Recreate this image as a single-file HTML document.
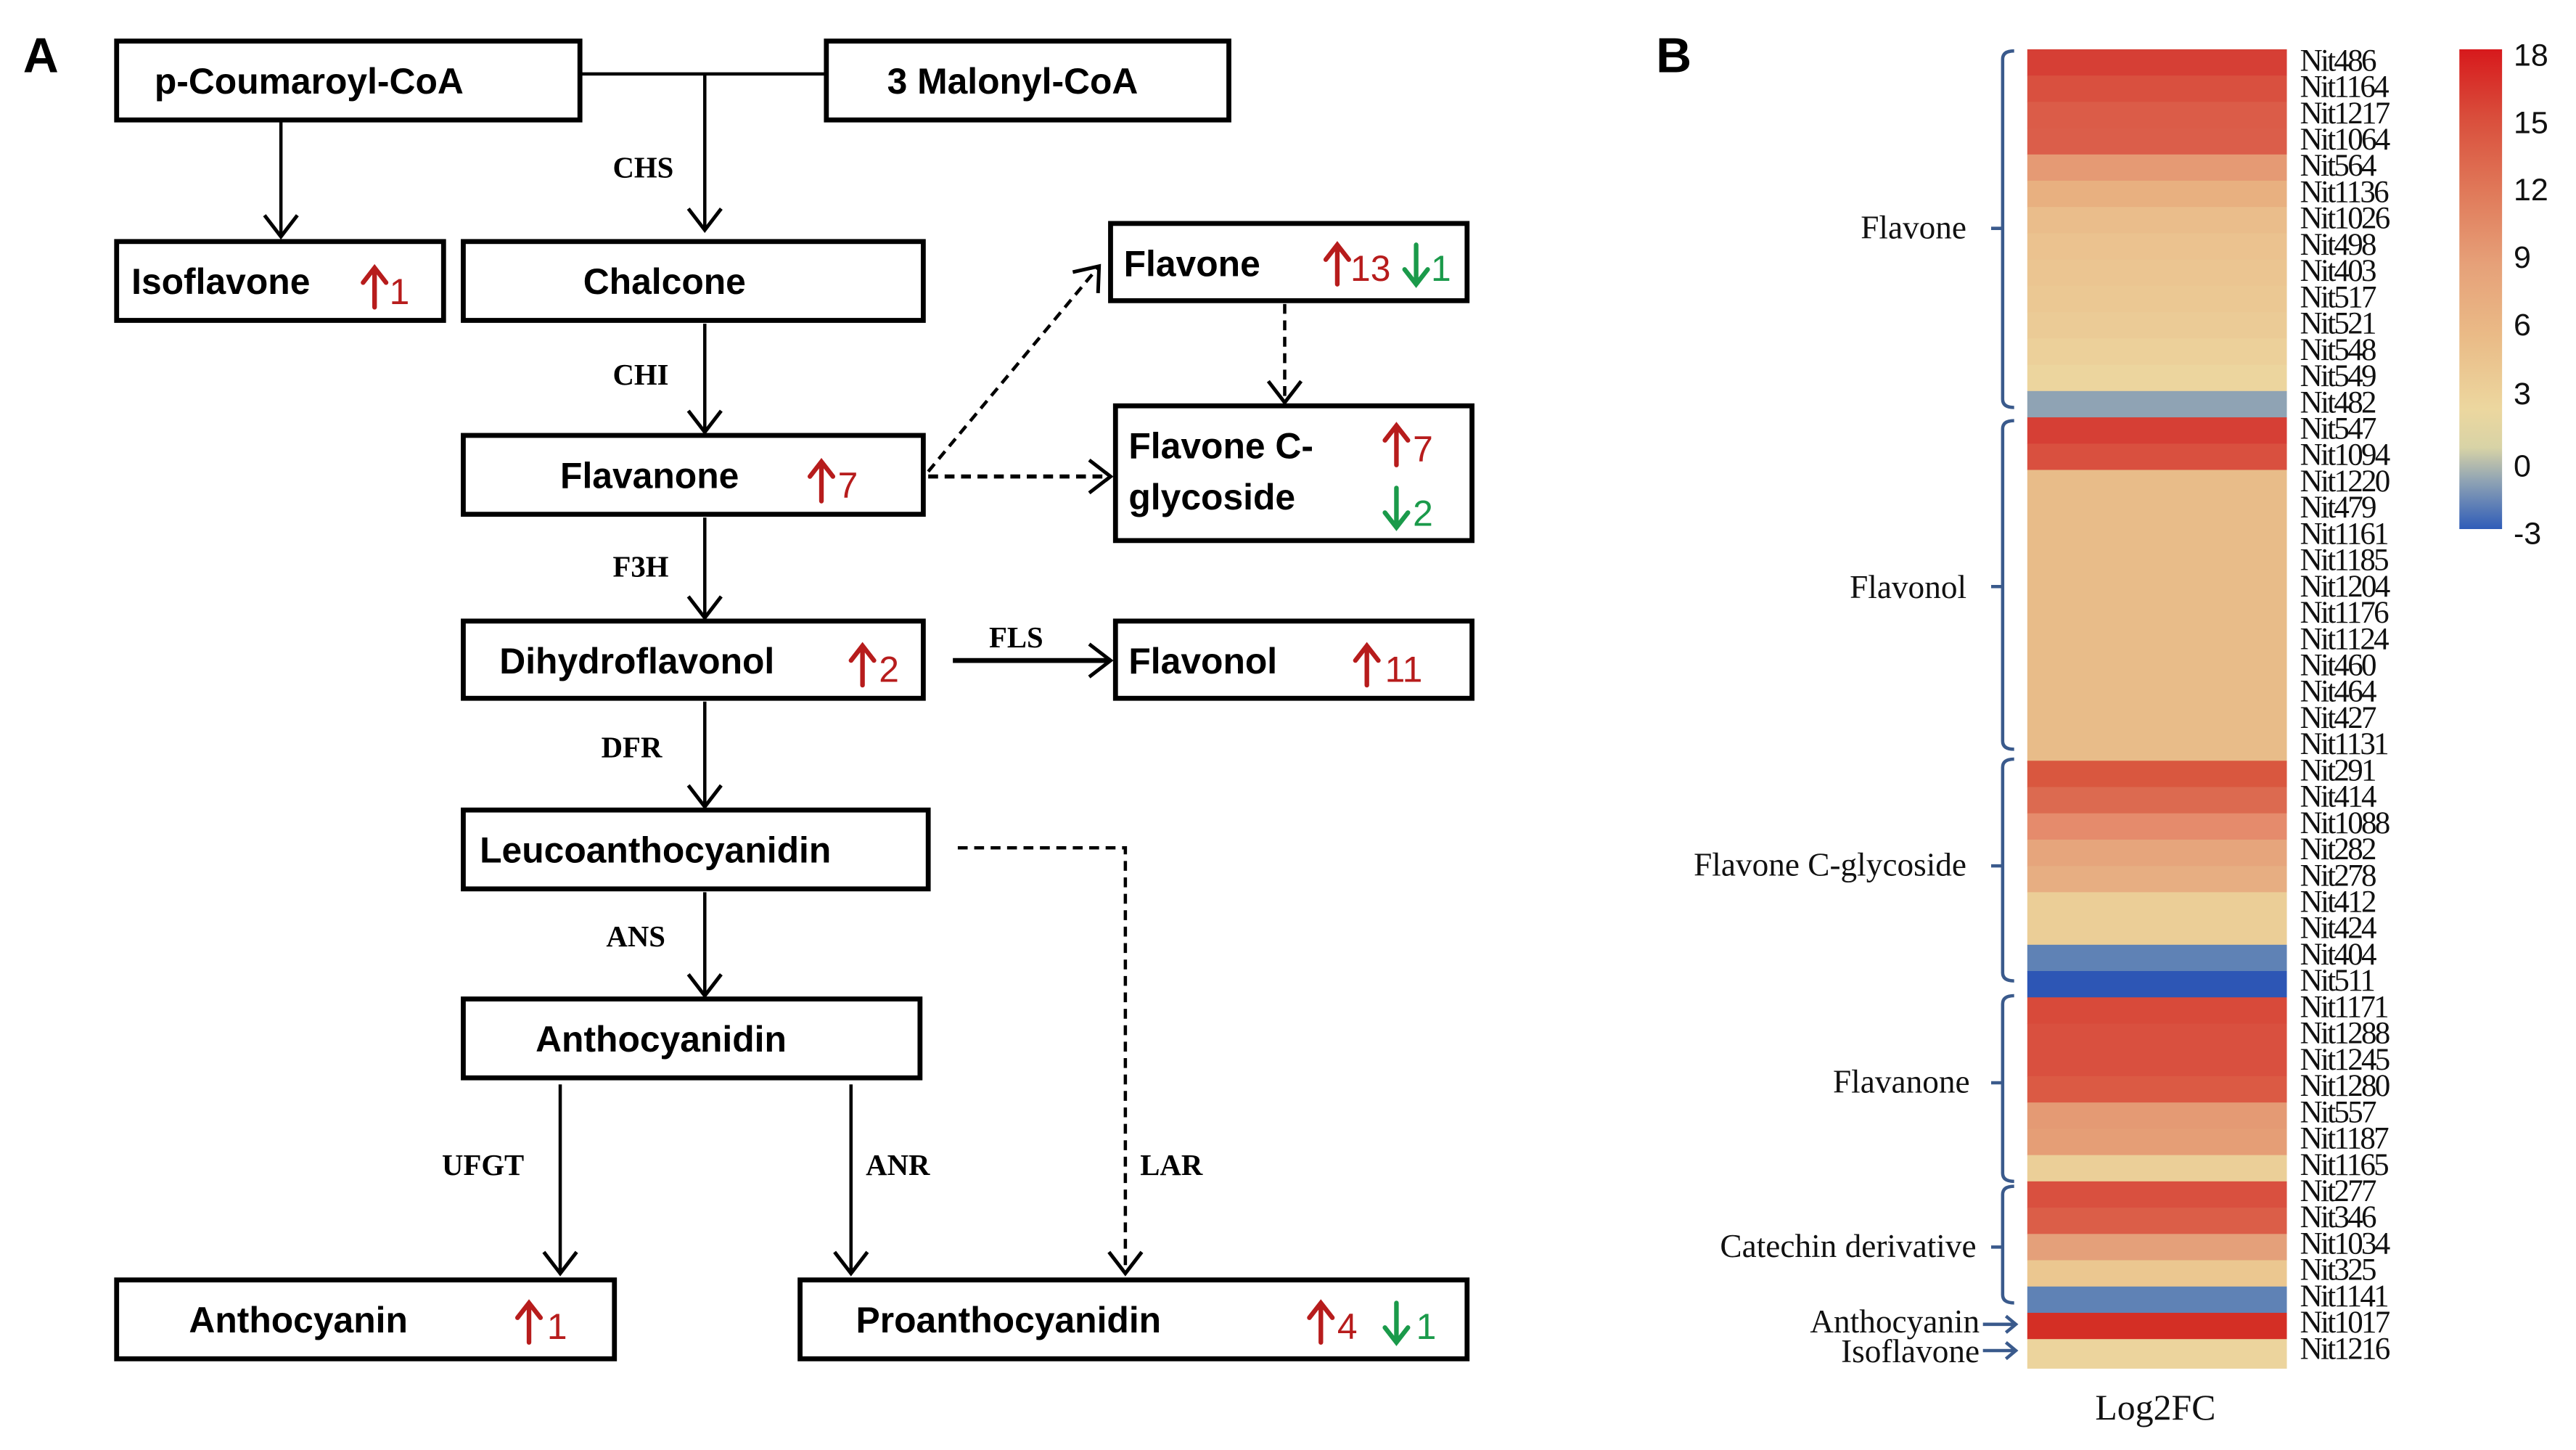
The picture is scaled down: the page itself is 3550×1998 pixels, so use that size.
<!DOCTYPE html>
<html><head><meta charset="utf-8"><style>html,body{margin:0;padding:0;background:#fff}svg{display:block}</style></head>
<body>
<svg width="3550" height="1998" viewBox="0 0 1568 882.5" preserveAspectRatio="none" xmlns="http://www.w3.org/2000/svg">
<defs>
<marker id="ar" markerUnits="userSpaceOnUse" markerWidth="30" markerHeight="30" refX="15" refY="15" orient="auto" viewBox="0 0 30 30">
<path d="M2,5 L15,15 L2,25" fill="none" stroke="#000" stroke-width="2.2"/>
</marker>
<linearGradient id="cb" x1="0" y1="0" x2="0" y2="1">
<stop offset="0" stop-color="#d7191c"/>
<stop offset="0.14" stop-color="#d94d3b"/>
<stop offset="0.3" stop-color="#e07a5a"/>
<stop offset="0.45" stop-color="#e6a179"/>
<stop offset="0.6" stop-color="#eabb87"/>
<stop offset="0.75" stop-color="#ecd79f"/>
<stop offset="0.83" stop-color="#d8d3a6"/>
<stop offset="0.9" stop-color="#8fa3b4"/>
<stop offset="1" stop-color="#2f5cb8"/>
</linearGradient>
</defs>

<g font-family="Liberation Sans, Arial, sans-serif" font-weight="bold" font-size="22" fill="#000">
<text x="14" y="44" font-size="30">A</text>
<text x="1008" y="44" font-size="30">B</text>
</g>

<!-- boxes -->
<g fill="#fff" stroke="#000" stroke-width="3">
<rect x="71" y="25" width="282" height="48"/>
<rect x="503" y="25" width="245" height="48"/>
<rect x="71" y="147" width="199" height="48"/>
<rect x="282" y="147" width="280" height="48"/>
<rect x="282" y="265" width="280" height="48"/>
<rect x="282" y="378" width="280" height="47"/>
<rect x="282" y="493" width="283" height="48"/>
<rect x="282" y="608" width="278" height="48"/>
<rect x="71" y="779" width="303" height="48"/>
<rect x="487" y="779" width="406" height="48"/>
<rect x="676" y="136" width="217" height="47"/>
<rect x="679" y="247" width="217" height="82"/>
<rect x="679" y="378" width="217" height="47"/>
</g>

<!-- connectors -->
<g stroke="#000" stroke-width="2" fill="none">
<line x1="353" y1="45" x2="503" y2="45"/>
<line x1="429" y1="45" x2="429" y2="140" marker-end="url(#ar)"/>
<line x1="171" y1="73" x2="171" y2="144" marker-end="url(#ar)"/>
<line x1="429" y1="197" x2="429" y2="263" marker-end="url(#ar)"/>
<line x1="429" y1="315" x2="429" y2="376" marker-end="url(#ar)"/>
<line x1="429" y1="427" x2="429" y2="491" marker-end="url(#ar)"/>
<line x1="429" y1="543" x2="429" y2="606" marker-end="url(#ar)"/>
<line x1="341" y1="660" x2="341" y2="775" marker-end="url(#ar)"/>
<line x1="518" y1="660" x2="518" y2="775" marker-end="url(#ar)"/>
<line x1="580" y1="402" x2="676" y2="402" stroke-width="3" marker-end="url(#ar)"/>
<g stroke-dasharray="6,4">
<line x1="565" y1="287" x2="669" y2="162" marker-end="url(#ar)"/>
<line x1="565" y1="290" x2="676" y2="290" stroke-width="2.5" marker-end="url(#ar)"/>
<line x1="782" y1="185" x2="782" y2="245" marker-end="url(#ar)"/>
<polyline points="583,516 685,516 685,775" marker-end="url(#ar)"/>
</g>
</g>

<!-- box text -->
<g font-family="Liberation Sans, Arial, sans-serif" font-weight="bold" font-size="22" fill="#000">
<text x="94" y="57">p-Coumaroyl-CoA</text>
<text x="540" y="57">3 Malonyl-CoA</text>
<text x="80" y="179">Isoflavone</text>
<text x="355" y="179">Chalcone</text>
<text x="341" y="297">Flavanone</text>
<text x="304" y="410">Dihydroflavonol</text>
<text x="292" y="525">Leucoanthocyanidin</text>
<text x="326" y="640">Anthocyanidin</text>
<text x="115" y="811">Anthocyanin</text>
<text x="521" y="811">Proanthocyanidin</text>
<text x="684" y="168">Flavone</text>
<text x="687" y="279">Flavone C-</text>
<text x="687" y="310">glycoside</text>
<text x="687" y="410">Flavonol</text>
</g>

<!-- up/down arrows -->
<g stroke="#b71c1c" stroke-width="2.8" fill="none" stroke-linecap="round">
<path d="M228,187 L228,163 M221,172 L228,163 L235,172"/>
<path d="M500,305 L500,281 M493,290 L500,281 L507,290"/>
<path d="M525,417 L525,393 M518,402 L525,393 L532,402"/>
<path d="M832,417 L832,393 M825,402 L832,393 L839,402"/>
<path d="M814,173 L814,149 M807,158 L814,149 L821,158"/>
<path d="M850,283 L850,259 M843,268 L850,259 L857,268"/>
<path d="M322,817 L322,793 M315,802 L322,793 L329,802"/>
<path d="M804,817 L804,793 M797,802 L804,793 L811,802"/>
</g>
<g stroke="#1a9a4a" stroke-width="2.8" fill="none" stroke-linecap="round">
<path d="M862,149 L862,173 M855,164 L862,173 L869,164"/>
<path d="M850,297 L850,321 M843,312 L850,321 L857,312"/>
<path d="M850,793 L850,817 M843,808 L850,817 L857,808"/>
</g>
<g font-family="Liberation Sans, Arial, sans-serif" font-size="22">
<g fill="#b71c1c">
<text x="237" y="185">1</text>
<text x="510" y="303">7</text>
<text x="535" y="415">2</text>
<text x="843" y="415">11</text>
<text x="822" y="171">13</text>
<text x="860" y="281">7</text>
<text x="333" y="815">1</text>
<text x="814" y="815">4</text>
</g>
<g fill="#1a9a4a">
<text x="871" y="171">1</text>
<text x="860" y="320">2</text>
<text x="862" y="815">1</text>
</g>
</g>

<!-- enzyme labels -->
<g font-family="Liberation Serif, Times New Roman, serif" font-weight="bold" font-size="18" fill="#000">
<text x="373" y="108">CHS</text>
<text x="373" y="234">CHI</text>
<text x="373" y="351">F3H</text>
<text x="366" y="461">DFR</text>
<text x="369" y="576">ANS</text>
<text x="269" y="715">UFGT</text>
<text x="527" y="715">ANR</text>
<text x="694" y="715">LAR</text>
<text x="602" y="394">FLS</text>
</g>

<!-- heatmap -->
<g font-family="Liberation Serif, Times New Roman, serif" font-size="20" fill="#111" text-anchor="end">
<text x="1197" y="145">Flavone</text>
<text x="1197" y="364">Flavonol</text>
<text x="1197" y="533">Flavone C-glycoside</text>
<text x="1199" y="665">Flavanone</text>
<text x="1203" y="765">Catechin derivative</text>
<text x="1205" y="811">Anthocyanin</text>
<text x="1205" y="829">Isoflavone</text>
</g>
<g stroke="#3a5a8c" stroke-width="2" fill="none">
<path d="M1226,31 Q1219,31 1219,36 L1219,243 Q1219,248 1226,248 M1212,139 L1219,139"/>
<path d="M1226,256 Q1219,256 1219,261 L1219,451 Q1219,456 1226,456 M1212,357 L1219,357"/>
<path d="M1226,462 Q1219,462 1219,467 L1219,592 Q1219,597 1226,597 M1212,527 L1219,527"/>
<path d="M1226,606 Q1219,606 1219,611 L1219,714 Q1219,719 1226,719 M1212,659 L1219,659"/>
<path d="M1226,722 Q1219,722 1219,727 L1219,788 Q1219,793 1226,793 M1212,759 L1219,759"/>
<path d="M1207,806 L1227,806 M1221,801 L1227,806 L1221,811"/>
<path d="M1207,822 L1227,822 M1221,817 L1227,822 L1221,827"/>
</g>
<g>
<rect x="1234" y="30" width="158" height="16.2" fill="#d63f35"/>
<rect x="1234" y="46" width="158" height="16.2" fill="#d9503f"/>
<rect x="1234" y="62" width="158" height="16.2" fill="#db5c48"/>
<rect x="1234" y="78" width="158" height="16.2" fill="#db5e4a"/>
<rect x="1234" y="94" width="158" height="16.2" fill="#e59a74"/>
<rect x="1234" y="110" width="158" height="16.2" fill="#e8b080"/>
<rect x="1234" y="126" width="158" height="16.2" fill="#eabd8b"/>
<rect x="1234" y="142" width="158" height="16.2" fill="#ebc28f"/>
<rect x="1234" y="158" width="158" height="16.2" fill="#ebc591"/>
<rect x="1234" y="174" width="158" height="16.2" fill="#ebc893"/>
<rect x="1234" y="190" width="158" height="16.2" fill="#ebcb96"/>
<rect x="1234" y="206" width="158" height="16.2" fill="#ecd09a"/>
<rect x="1234" y="222" width="158" height="16.2" fill="#ecd59e"/>
<rect x="1234" y="238" width="158" height="16.2" fill="#8fa3b4"/>
<rect x="1234" y="254" width="158" height="16.2" fill="#d63f35"/>
<rect x="1234" y="270" width="158" height="16.2" fill="#d9503f"/>
<rect x="1234" y="286" width="158" height="178.6" fill="#e8bc89"/>
<rect x="1234" y="463" width="158" height="16.2" fill="#d9573f"/>
<rect x="1234" y="479" width="158" height="16.2" fill="#dc6a50"/>
<rect x="1234" y="495" width="158" height="16.2" fill="#e58b6c"/>
<rect x="1234" y="511" width="158" height="16.2" fill="#e6a57c"/>
<rect x="1234" y="527" width="158" height="16.2" fill="#e7ae82"/>
<rect x="1234" y="543" width="158" height="32.2" fill="#ebce97"/>
<rect x="1234" y="575" width="158" height="16.2" fill="#5f82b5"/>
<rect x="1234" y="591" width="158" height="16.2" fill="#2d56b5"/>
<rect x="1234" y="607" width="158" height="16.2" fill="#d84a3a"/>
<rect x="1234" y="623" width="158" height="32.2" fill="#d9503f"/>
<rect x="1234" y="655" width="158" height="16.2" fill="#db5a44"/>
<rect x="1234" y="671" width="158" height="16.2" fill="#e49a74"/>
<rect x="1234" y="687" width="158" height="16.2" fill="#e59e76"/>
<rect x="1234" y="703" width="158" height="16.2" fill="#ebcf98"/>
<rect x="1234" y="719" width="158" height="16.2" fill="#d9503f"/>
<rect x="1234" y="735" width="158" height="16.2" fill="#db5e48"/>
<rect x="1234" y="751" width="158" height="16.2" fill="#e4a07a"/>
<rect x="1234" y="767" width="158" height="16.2" fill="#ebc790"/>
<rect x="1234" y="783" width="158" height="16.2" fill="#5f82b5"/>
<rect x="1234" y="799" width="158" height="16.2" fill="#d42f25"/>
<rect x="1234" y="815" width="158" height="18" fill="#ecd49d"/>
</g>
<g font-family="Liberation Serif, Times New Roman, serif" font-size="19" fill="#111" letter-spacing="-1.2">
<text x="1400" y="43">Nit486</text><text x="1400" y="59">Nit1164</text><text x="1400" y="75">Nit1217</text><text x="1400" y="91">Nit1064</text>
<text x="1400" y="107">Nit564</text><text x="1400" y="123">Nit1136</text><text x="1400" y="139">Nit1026</text><text x="1400" y="155">Nit498</text>
<text x="1400" y="171">Nit403</text><text x="1400" y="187">Nit517</text><text x="1400" y="203">Nit521</text><text x="1400" y="219">Nit548</text>
<text x="1400" y="235">Nit549</text><text x="1400" y="251">Nit482</text><text x="1400" y="267">Nit547</text><text x="1400" y="283">Nit1094</text>
<text x="1400" y="299">Nit1220</text><text x="1400" y="315">Nit479</text><text x="1400" y="331">Nit1161</text><text x="1400" y="347">Nit1185</text>
<text x="1400" y="363">Nit1204</text><text x="1400" y="379">Nit1176</text><text x="1400" y="395">Nit1124</text><text x="1400" y="411">Nit460</text>
<text x="1400" y="427">Nit464</text><text x="1400" y="443">Nit427</text><text x="1400" y="459">Nit1131</text><text x="1400" y="475">Nit291</text>
<text x="1400" y="491">Nit414</text><text x="1400" y="507">Nit1088</text><text x="1400" y="523">Nit282</text><text x="1400" y="539">Nit278</text>
<text x="1400" y="555">Nit412</text><text x="1400" y="571">Nit424</text><text x="1400" y="587">Nit404</text><text x="1400" y="603">Nit511</text>
<text x="1400" y="619">Nit1171</text><text x="1400" y="635">Nit1288</text><text x="1400" y="651">Nit1245</text><text x="1400" y="667">Nit1280</text>
<text x="1400" y="683">Nit557</text><text x="1400" y="699">Nit1187</text><text x="1400" y="715">Nit1165</text><text x="1400" y="731">Nit277</text>
<text x="1400" y="747">Nit346</text><text x="1400" y="763">Nit1034</text><text x="1400" y="779">Nit325</text><text x="1400" y="795">Nit1141</text>
<text x="1400" y="811">Nit1017</text><text x="1400" y="827">Nit1216</text>
</g>
<text x="1312" y="864" font-family="Liberation Serif, Times New Roman, serif" font-size="22" text-anchor="middle" fill="#111">Log2FC</text>

<!-- colorbar -->
<rect x="1497" y="30" width="26" height="292" fill="url(#cb)"/>
<g font-family="Liberation Sans, Arial, sans-serif" font-size="19" fill="#111">
<text x="1530" y="40">18</text><text x="1530" y="81">15</text><text x="1530" y="122">12</text><text x="1530" y="163">9</text>
<text x="1530" y="204">6</text><text x="1530" y="246">3</text><text x="1530" y="290">0</text><text x="1530" y="331">-3</text>
</g>
</svg>
</body></html>
